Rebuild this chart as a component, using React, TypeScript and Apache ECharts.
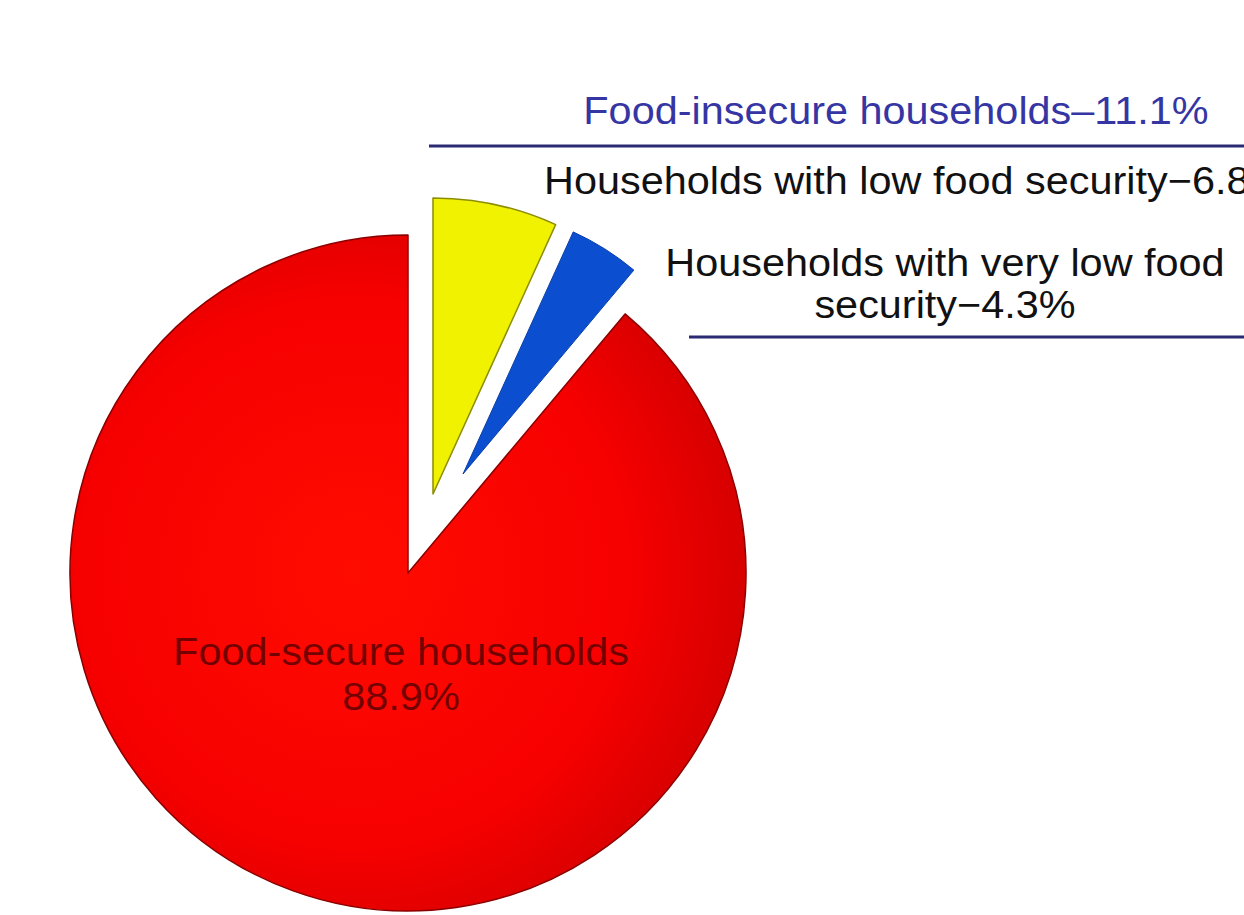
import React, { useEffect, useRef } from "react";
import * as echarts from "echarts";

// ---- data ----
const categories = [
  "Households with low food security",
  "Households with very low food security",
  "Food-secure households",
];
const shares = [6.8, 4.3, 88.9];
const insecureName = "Food-insecure households";
const insecureShare = 11.1;

// ---- layout / styles (not data) ----
const sliceLayout = [
  { center: [433, 494], radius: 296 },
  { center: [463, 474], radius: 266 },
  { center: [408, 573], radius: 338 },
];

const sliceStyles = [
  { color: "#f0f200", borderColor: "#8c8c00", borderWidth: 1.5 },
  { color: "#0b4fd0", borderColor: "#0a3fa8", borderWidth: 1 },
  {
    color: new echarts.graphic.RadialGradient(0.42, 0.5, 0.62, [
      { offset: 0, color: "#ff0c00" },
      { offset: 0.65, color: "#f70000" },
      { offset: 1, color: "#d00000" },
    ]),
    borderColor: "#8a0000",
    borderWidth: 1.5,
  },
];

const FONT = '"Liberation Sans", Arial, sans-serif';
const SX = 1.09;

export default function App() {
  const ref = useRef<HTMLDivElement>(null);

  useEffect(() => {
    if (!ref.current) return;
    const chart = echarts.init(ref.current, undefined, { renderer: "svg" });

    const series = sliceLayout.map((lay, i) => ({
      type: "pie",
      center: lay.center,
      radius: lay.radius,
      startAngle: 90,
      clockwise: true,
      silent: true,
      animation: false,
      z: 2,
      label: { show: false },
      labelLine: { show: false },
      emphasis: { disabled: true },
      data: categories.map((name, j) => ({
        name,
        value: shares[j],
        itemStyle:
          j === i
            ? sliceStyles[i]
            : { color: "rgba(0,0,0,0)", borderWidth: 0 },
      })),
    }));

    const pct = (v: number) => `${v.toFixed(1)}%`;

    const text = (
      str: string,
      x: number,
      y: number,
      align: string,
      fill: string,
      lineHeight = 42
    ) => ({
      type: "text",
      x,
      y,
      scaleX: SX,
      z: 100,
      silent: true,
      style: {
        text: str,
        x: 0,
        y: 0,
        textAlign: align,
        textVerticalAlign: "middle",
        font: `38px ${FONT}`,
        lineHeight,
        fill,
      },
    });

    chart.setOption({
      animation: false,
      backgroundColor: "#ffffff",
      series,
      graphic: [
        text(`${insecureName}\u2013${pct(insecureShare)}`, 896, 111, "center", "#3535a4"),
        {
          type: "line",
          z: 100,
          shape: { x1: 429, y1: 146, x2: 1244, y2: 146 },
          style: { stroke: "#2a2a72", lineWidth: 3 },
        },
        text(`${categories[0]}\u2212${pct(shares[0])}`, 544, 181, "left", "#111111"),
        text(
          "Households with very low food\nsecurity\u2212" + pct(shares[1]),
          945,
          284,
          "center",
          "#111111"
        ),
        {
          type: "line",
          z: 100,
          shape: { x1: 689, y1: 337, x2: 1244, y2: 337 },
          style: { stroke: "#2a2a72", lineWidth: 3 },
        },
        text(
          `${categories[2]}\n${pct(shares[2])}`,
          401,
          674,
          "center",
          "rgba(85,0,0,0.82)",
          45
        ),
      ],
    });

    return () => chart.dispose();
  }, []);

  return (
    <div
      ref={ref}
      style={{
        position: "fixed",
        left: 0,
        top: 0,
        width: 1244,
        height: 915,
      }}
    />
  );
}
